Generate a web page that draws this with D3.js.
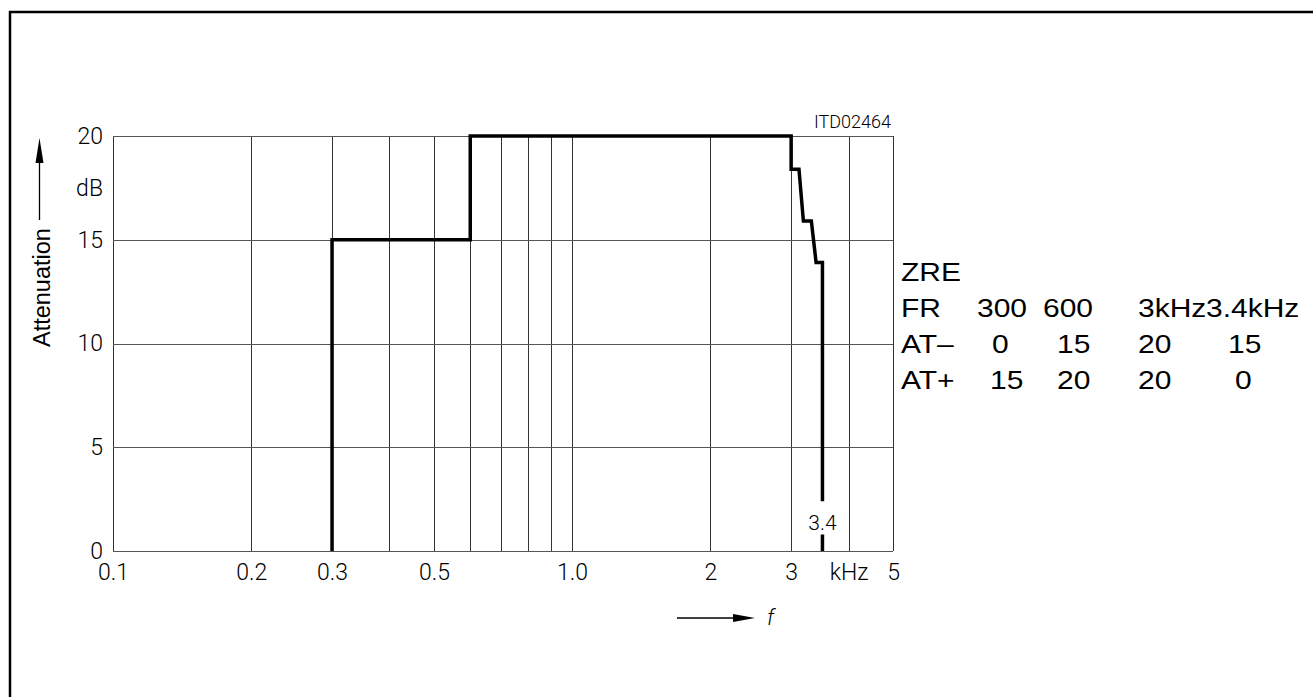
<!DOCTYPE html>
<html>
<head>
<meta charset="utf-8">
<script src="https://cdn.jsdelivr.net/npm/d3@7/dist/d3.min.js"></script>
<style>
  html, body { margin: 0; padding: 0; background: #fff; }
  svg { display: block; }
</style>
</head>
<body>
<svg id="chart" width="1313" height="697"></svg>
<script>
// ---------- data ----------
const freqGrid = [0.1, 0.2, 0.3, 0.4, 0.5, 0.6, 0.7, 0.8, 0.9, 1.0, 2, 3, 4, 5];
const dbGrid = [0, 5, 10, 15, 20];
const xTickValues = [0.1, 0.2, 0.3, 0.5, 1.0, 2, 3, 4, 5];
const xTickLabels = ["0.1", "0.2", "0.3", "0.5", "1.0", "2", "3", "kHz", "5"];
const yTickValues = [0, 5, 10, 15, 20];
const yTickLabels = ["0", "5", "10", "15", "20"];
// attenuation mask curve (kHz, dB); null = gap for the "3.4" label
const curveFreq = [0.3, 0.3, 0.6, 0.6, 3.0, 3.0, 3.12, 3.19, 3.32, 3.40, 3.51, 3.51, null, 3.51, 3.51];
const curveDb   = [0,   15,  15,  20,  20,  18.4, 18.4, 15.9, 15.9, 13.9, 13.9, 2.4, null, 0.8, 0];
const legendTitle = "ZRE";
const legendFR = ["FR", "300", "600", "3kHz", "3.4kHz"];
const legendATminus = ["AT–", "0", "15", "20", "15"];
const legendATplus = ["AT+", "15", "20", "20", "0"];
const yUnit = "dB";
const yTitle = "Attenuation";
const xTitle = "f";
const figId = "ITD02464";
const markLabel = "3.4";

// ---------- layout ----------
const svg = d3.select("#chart");
const pL = 113, pR = 893, pT = 136, pB = 551;
const x = d3.scaleLog().domain([0.1, 5]).range([pL, pR]);
const y = d3.scaleLinear().domain([0, 20]).range([pB, pT]);
const isoFont = "Roboto, 'DejaVu Sans', sans-serif";
const arial = "'Liberation Sans', Arial, sans-serif";

// outer frame (left + top)
svg.append("path")
  .attr("d", "M10,697 L10,12 L1313,12")
  .attr("fill", "none").attr("stroke", "#000").attr("stroke-width", 2.5);

// vertical grid
const gx = svg.append("g").attr("transform", `translate(0,${pB})`)
  .call(d3.axisBottom(x).tickValues(freqGrid).tickSize(-(pB - pT)).tickFormat(""));
gx.select(".domain").remove();
gx.selectAll("line").attr("stroke", "#333").attr("stroke-width", 1).attr("shape-rendering", "crispEdges");

// horizontal grid
const gy = svg.append("g").attr("transform", `translate(${pL},0)`)
  .call(d3.axisLeft(y).tickValues(dbGrid).tickSize(-(pR - pL)).tickFormat(""));
gy.select(".domain").remove();
gy.selectAll("line").attr("stroke", "#555").attr("stroke-width", 1).attr("shape-rendering", "crispEdges");

// x labels
const ax = svg.append("g").attr("transform", `translate(0,${pB})`)
  .call(d3.axisBottom(x).tickValues(xTickValues).tickSize(0).tickPadding(13)
    .tickFormat((d, i) => xTickLabels[i]));
ax.select(".domain").remove();
ax.selectAll("text").attr("font-family", isoFont).attr("font-weight", 300)
  .attr("font-size", 23).attr("fill", "#000");

// y labels
const ay = svg.append("g").attr("transform", `translate(106,0)`)
  .call(d3.axisLeft(y).tickValues(yTickValues).tickSize(0).tickPadding(3)
    .tickFormat((d, i) => yTickLabels[i]));
ay.select(".domain").remove();
ay.selectAll("text").attr("font-family", isoFont).attr("font-weight", 300)
  .attr("font-size", 23).attr("fill", "#000");

// dB unit
svg.append("text").attr("x", 103).attr("y", 196).attr("text-anchor", "end")
  .attr("font-family", isoFont).attr("font-weight", 300).attr("font-size", 23).text(yUnit);

// y title + arrow
svg.append("text").attr("transform", "translate(50,347) rotate(-90)")
  .attr("font-family", arial).attr("font-size", 23.5).text(yTitle);
svg.append("line").attr("x1", 39.5).attr("x2", 39.5).attr("y1", 220).attr("y2", 160)
  .attr("stroke", "#000").attr("stroke-width", 1.3);
svg.append("path").attr("d", "M39.5,138 L35.5,163 L43.5,163 Z").attr("fill", "#000");

// x title + arrow
svg.append("line").attr("x1", 677).attr("x2", 735).attr("y1", 618).attr("y2", 618)
  .attr("stroke", "#000").attr("stroke-width", 1.3);
svg.append("path").attr("d", "M755,618 L733,614 L733,622 Z").attr("fill", "#000");
svg.append("text").attr("x", 767).attr("y", 625).attr("font-family", isoFont)
  .attr("font-style", "italic").attr("font-weight", 300).attr("font-size", 22).text(xTitle);

// figure id
svg.append("text").attr("x", 891).attr("y", 128).attr("text-anchor", "end")
  .attr("font-family", isoFont).attr("font-weight", 300).attr("font-size", 18).text(figId);

// curve
const pts = curveFreq.map((f, i) => ({ f, d: curveDb[i] }));
const line = d3.line().defined(p => p.f !== null).x(p => x(p.f)).y(p => y(p.d));
svg.append("path").datum(pts).attr("d", line)
  .attr("fill", "none").attr("stroke", "#000").attr("stroke-width", 3.5)
  .attr("stroke-linejoin", "miter").attr("stroke-linecap", "butt");

// 3.4 label
svg.append("text").attr("x", x(3.51)).attr("y", 530).attr("text-anchor", "middle")
  .attr("font-family", isoFont).attr("font-weight", 300).attr("font-size", 21).text(markLabel);

// legend table
const legendSize = 25;
const colX = [901, 977, 1043, 1138, 1206];
const colXminus = [901, 992, 1057, 1138, 1228];
const colXplus = [901, 990, 1057, 1138, 1235];
function legendText(txt, tx, ty) {
  svg.append("text").attr("transform", `translate(${tx},${ty}) scale(1.2,1)`)
    .attr("font-family", arial).attr("font-size", legendSize).attr("fill", "#000").text(txt);
}
legendText(legendTitle, 901, 281);
legendFR.forEach((t, i) => legendText(t, colX[i], 317));
legendATminus.forEach((t, i) => legendText(t, colXminus[i], 353));
legendATplus.forEach((t, i) => legendText(t, colXplus[i], 389));
</script>
</body>
</html>
